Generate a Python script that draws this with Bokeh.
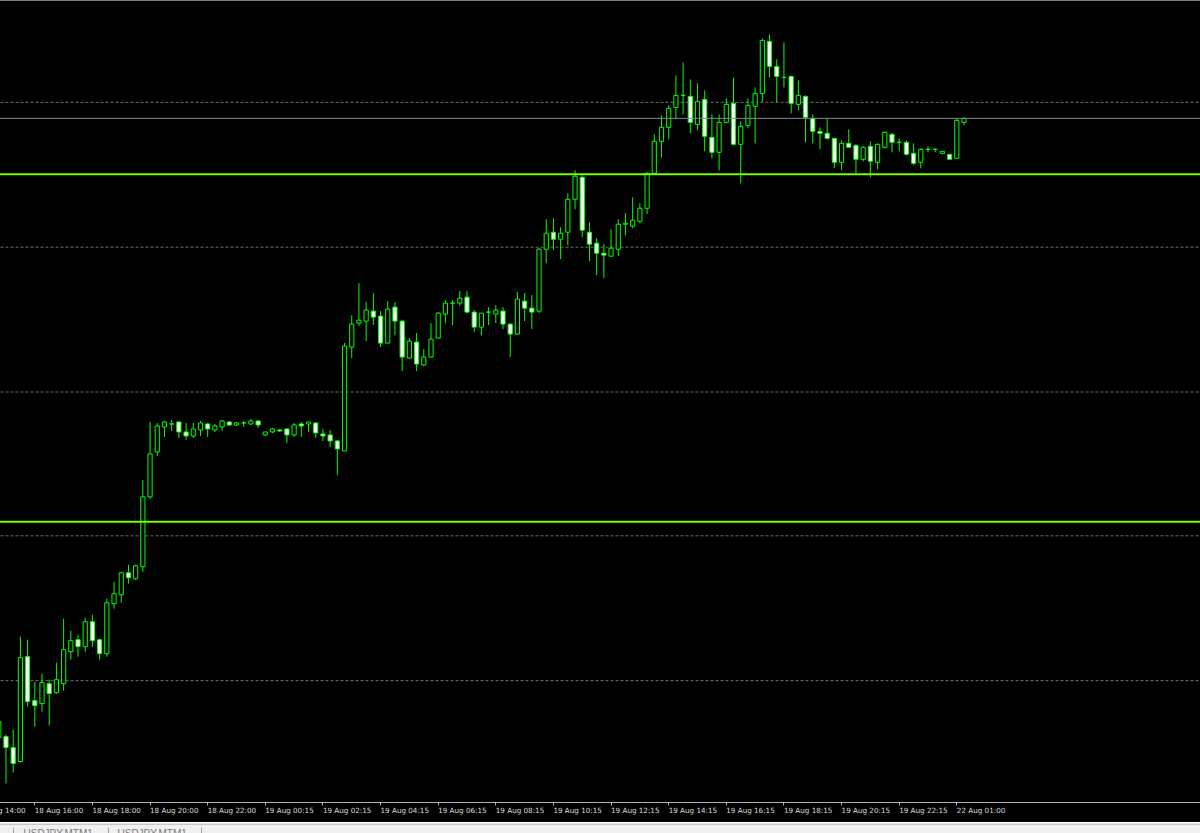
from bokeh.plotting import figure
from bokeh.models import Range1d, Span, FixedTicker, ColumnDataSource
from bokeh.layouts import column
from bokeh.embed import file_html
from bokeh.resources import INLINE
from bokeh.core.properties import value

# ---- data (USDJPY M15) ----
bar_index = list(range(-1, 134))
open_ = [147.262, 147.263, 147.252, 147.238, 147.343, 147.299, 147.296, 147.316, 147.307, 147.316,
         147.348, 147.360, 147.353, 147.378, 147.360, 147.346, 147.396, 147.405, 147.427, 147.421,
         147.433, 147.503, 147.548, 147.573, 147.576, 147.578, 147.568, 147.564, 147.570, 147.576,
         147.570, 147.573, 147.578, 147.575, 147.577, 147.576, 147.579, 147.565, 147.568, 147.570,
         147.571, 147.565, 147.576, 147.576, 147.577, 147.566, 147.565, 147.559, 147.549, 147.653,
         147.677, 147.679, 147.689, 147.684, 147.657, 147.693, 147.679, 147.642, 147.658, 147.635,
         147.643, 147.662, 147.686, 147.697, 147.697, 147.703, 147.688, 147.673, 147.688, 147.686,
         147.689, 147.676, 147.666, 147.699, 147.692, 147.689, 147.751, 147.768, 147.761, 147.768,
         147.801, 147.823, 147.768, 147.757, 147.747, 147.744, 147.751, 147.776, 147.774, 147.779,
         147.792, 147.827, 147.859, 147.873, 147.893, 147.905, 147.904, 147.876, 147.901, 147.863,
         147.848, 147.878, 147.897, 147.856, 147.875, 147.894, 147.907, 147.959, 147.934, 147.923,
         147.924, 147.896, 147.904, 147.882, 147.869, 147.867, 147.862, 147.838, 147.857, 147.855,
         147.841, 147.854, 147.838, 147.853, 147.866, 147.858, 147.858, 147.847, 147.838, 147.851,
         147.851, 147.847, 147.846, 147.842, 147.878]
high = [147.285, 147.265, 147.270, 147.363, 147.360, 147.318, 147.326, 147.320, 147.337, 147.381,
        147.369, 147.365, 147.382, 147.385, 147.361, 147.401, 147.418, 147.428, 147.435, 147.435,
        147.520, 147.578, 147.577, 147.579, 147.580, 147.579, 147.577, 147.577, 147.579, 147.577,
        147.576, 147.580, 147.579, 147.578, 147.579, 147.581, 147.580, 147.568, 147.572, 147.571,
        147.572, 147.577, 147.578, 147.578, 147.578, 147.571, 147.570, 147.560, 147.657, 147.685,
        147.717, 147.698, 147.707, 147.689, 147.699, 147.698, 147.680, 147.662, 147.667, 147.651,
        147.677, 147.688, 147.700, 147.700, 147.709, 147.709, 147.690, 147.687, 147.693, 147.695,
        147.693, 147.677, 147.708, 147.707, 147.705, 147.752, 147.781, 147.782, 147.773, 147.807,
        147.830, 147.825, 147.778, 147.762, 147.756, 147.771, 147.781, 147.787, 147.803, 147.797,
        147.828, 147.866, 147.885, 147.895, 147.925, 147.938, 147.921, 147.917, 147.910, 147.886,
        147.886, 147.902, 147.923, 147.879, 147.902, 147.913, 147.962, 147.966, 147.941, 147.958,
        147.925, 147.920, 147.905, 147.886, 147.873, 147.882, 147.862, 147.860, 147.871, 147.856,
        147.854, 147.859, 147.857, 147.869, 147.867, 147.862, 147.860, 147.857, 147.852, 147.854,
        147.852, 147.849, 147.846, 147.882, 147.883]
low = [147.255, 147.216, 147.227, 147.237, 147.293, 147.273, 147.288, 147.274, 147.306, 147.309,
       147.340, 147.343, 147.348, 147.353, 147.340, 147.343, 147.391, 147.397, 147.416, 147.420,
       147.428, 147.501, 147.544, 147.563, 147.569, 147.562, 147.560, 147.562, 147.564, 147.563,
       147.568, 147.569, 147.574, 147.574, 147.573, 147.575, 147.572, 147.564, 147.567, 147.568,
       147.557, 147.563, 147.563, 147.568, 147.562, 147.559, 147.553, 147.525, 147.549, 147.642,
       147.674, 147.659, 147.675, 147.653, 147.657, 147.665, 147.629, 147.641, 147.629, 147.634,
       147.643, 147.662, 147.677, 147.675, 147.694, 147.687, 147.668, 147.665, 147.675, 147.677,
       147.671, 147.643, 147.665, 147.679, 147.671, 147.687, 147.737, 147.750, 147.741, 147.755,
       147.791, 147.763, 147.739, 147.725, 147.722, 147.744, 147.744, 147.765, 147.772, 147.777,
       147.786, 147.826, 147.843, 147.861, 147.882, 147.886, 147.867, 147.870, 147.849, 147.842,
       147.830, 147.877, 147.855, 147.817, 147.872, 147.857, 147.898, 147.923, 147.898, 147.913,
       147.887, 147.890, 147.858, 147.857, 147.851, 147.861, 147.832, 147.830, 147.853, 147.827,
       147.839, 147.823, 147.831, 147.852, 147.848, 147.849, 147.845, 147.835, 147.832, 147.848,
       147.848, 147.846, 147.841, 147.842, 147.875]
close = [147.278, 147.252, 147.236, 147.342, 147.298, 147.294, 147.317, 147.306, 147.320, 147.350,
         147.359, 147.353, 147.378, 147.359, 147.346, 147.397, 147.406, 147.427, 147.422, 147.434,
         147.503, 147.546, 147.574, 147.578, 147.576, 147.568, 147.564, 147.571, 147.577, 147.571,
         147.574, 147.579, 147.575, 147.577, 147.577, 147.579, 147.575, 147.568, 147.571, 147.569,
         147.565, 147.575, 147.574, 147.578, 147.567, 147.564, 147.559, 147.551, 147.654, 147.676,
         147.680, 147.690, 147.683, 147.657, 147.691, 147.679, 147.643, 147.659, 147.636, 147.643,
         147.661, 147.687, 147.697, 147.697, 147.702, 147.688, 147.673, 147.687, 147.688, 147.690,
         147.676, 147.666, 147.701, 147.692, 147.688, 147.751, 147.767, 147.761, 147.767, 147.801,
         147.824, 147.770, 147.756, 147.747, 147.745, 147.752, 147.776, 147.777, 147.780, 147.792,
         147.827, 147.859, 147.873, 147.892, 147.905, 147.905, 147.878, 147.899, 147.864, 147.848,
         147.878, 147.896, 147.856, 147.874, 147.895, 147.907, 147.960, 147.934, 147.924, 147.923,
         147.897, 147.905, 147.883, 147.869, 147.867, 147.862, 147.838, 147.857, 147.853, 147.841,
         147.853, 147.839, 147.856, 147.868, 147.858, 147.858, 147.846, 147.837, 147.851, 147.851,
         147.851, 147.849, 147.841, 147.880, 147.882]

label_index = [-4, 4, 12, 20, 28, 36, 44, 52, 60, 68, 76, 84, 92, 100, 108, 116, 124, 132]
label_text = ["18 Aug 14:00", "18 Aug 16:00", "18 Aug 18:00", "18 Aug 20:00", "18 Aug 22:00",
              "19 Aug 00:15", "19 Aug 02:15", "19 Aug 04:15", "19 Aug 06:15", "19 Aug 08:15",
              "19 Aug 10:15", "19 Aug 12:15", "19 Aug 14:15", "19 Aug 16:15", "19 Aug 18:15",
              "19 Aug 20:15", "19 Aug 22:15", "22 Aug 01:00"]

grid_prices = [147.898, 147.753, 147.608, 147.464, 147.319]
level_prices = [147.826, 147.478]
bid_price = 147.882

tab_names = ["USDJPY,MTM1", "USDJPY,MTM1"]

# ---- styling / layout constants ----
HIDE = 25              # px of the chart kept off the left edge of the window
W = 1200 + HIDE
H_MAIN = 822
H_TABS = 11
PX_PER_BAR = 7.203
BULL_FILL = "#000000"
BEAR_FILL = "#ffffff"
CANDLE_LINE = "#00ff00"
FONT = "DejaVu Sans"
AXIS_TEXT = "#dcdcdc"

fills = [BEAR_FILL if c < o else BULL_FILL for o, c in zip(open_, close)]
src = ColumnDataSource(dict(x=bar_index, o=open_, h=high, l=low, c=close,
                            top=[max(a, b) for a, b in zip(open_, close)],
                            bot=[min(a, b) for a, b in zip(open_, close)],
                            fill=fills))

x_left = -0.762 - HIDE / PX_PER_BAR
p = figure(width=W, height=H_MAIN, output_backend="svg", toolbar_location=None,
           x_range=Range1d(x_left, 165.83), y_range=Range1d(147.197, 148.000),
           y_axis_location=None, min_border_left=0, min_border_right=0,
           min_border_top=0, min_border_bottom=19,
           background_fill_color="#000000", border_fill_color="#000000",
           outline_line_color=None)
p.xgrid.visible = False
p.ygrid.visible = False

for g in grid_prices:
    p.add_layout(Span(location=g, dimension="width", line_color="#6e6e6e",
                      line_width=1, line_dash="3 2", level="underlay"))

p.segment(x0="x", y0="l", x1="x", y1="h", source=src, line_color=CANDLE_LINE, line_width=1)
p.vbar(x="x", width=0.58, top="top", bottom="bot", source=src,
       fill_color="fill", line_color=CANDLE_LINE, line_width=1)

for lv in level_prices:
    p.add_layout(Span(location=lv, dimension="width", line_color="#7cfc00", line_width=2))
p.add_layout(Span(location=bid_price, dimension="width", line_color="#778899", line_width=1))

ax = p.xaxis[0]
ax.ticker = FixedTicker(ticks=label_index)
ax.major_label_overrides = {i: t for i, t in zip(label_index, label_text)}
ax.major_label_orientation = -0.0001   # numeric angle -> labels start at their tick
ax.major_label_text_color = AXIS_TEXT
ax.major_label_text_font = FONT
ax.major_label_text_font_size = "7.2px"
ax.major_label_standoff = 5
ax.axis_line_color = "#b4b4b4"
ax.major_tick_line_color = "#b4b4b4"
ax.major_tick_out = 3
ax.major_tick_in = 0
ax.minor_tick_line_color = None

# ---- tab bar ----
t = figure(width=W, height=H_TABS, output_backend="svg", toolbar_location=None,
           x_range=Range1d(-HIDE, 1200), y_range=Range1d(0, 11),
           x_axis_location=None, y_axis_location=None, min_border=0,
           background_fill_color="#f0f0f0", border_fill_color="#f0f0f0",
           outline_line_color=None)
t.xgrid.visible = False
t.ygrid.visible = False
t.add_layout(Span(location=10.5, dimension="width", line_color="#a0a0a0", line_width=1))
t.segment(x0=[13, 108, 201], y0=[0, 0, 0], x1=[13, 108, 201], y1=[7, 7, 7],
          line_color="#a0a0a0", line_width=1)
t.text(x=[23, 117], y=[6.5, 6.5], text=tab_names, text_font=value("Liberation Sans"),
       text_font_size="10px", text_color="#7a7a7a", text_baseline="top")

layout = column(p, t, spacing=0, margin=(0, 0, 0, -HIDE))
open("out.html", "w").write(file_html(layout, INLINE))
